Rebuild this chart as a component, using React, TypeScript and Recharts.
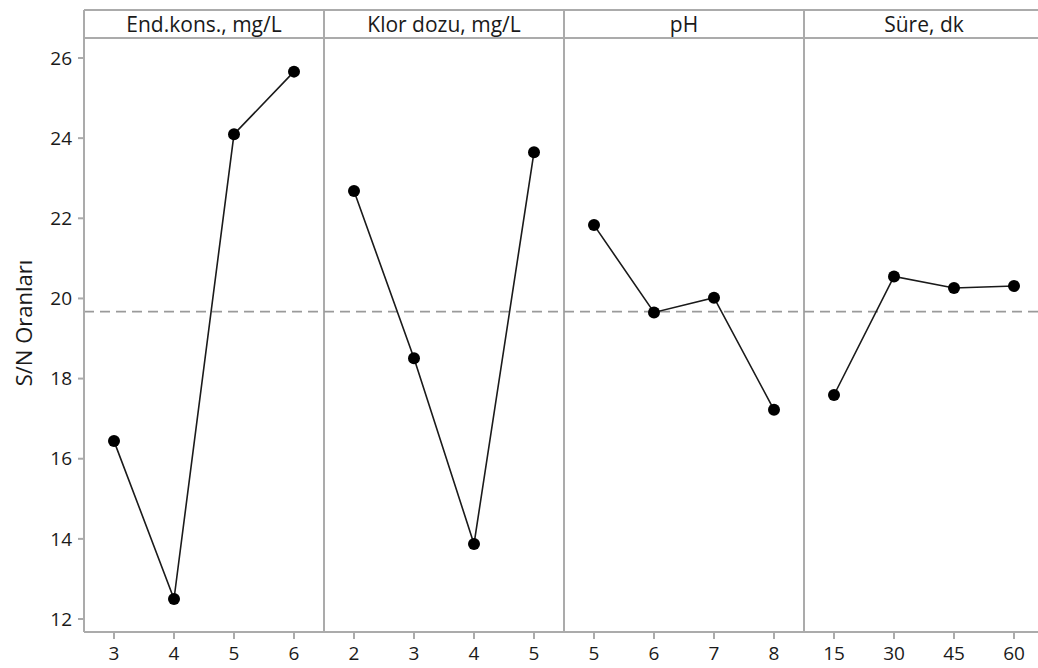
import {
  LineChart,
  Line,
  XAxis,
  YAxis,
  ReferenceLine,
  ReferenceArea,
} from "recharts";

const FONT = "'Open Sans', 'Noto Sans', sans-serif";
const FRAME = "#ababab";
const TEXT = "#1a1a1a";

// factor levels and S/N ratios
const panelTitles = ["End.kons., mg/L", "Klor dozu, mg/L", "pH", "Süre, dk"];
const endKonsLevels = ["3", "4", "5", "6"];
const endKonsSN = [16.44, 12.5, 24.1, 25.66];
const klorLevels = ["2", "3", "4", "5"];
const klorSN = [22.68, 18.51, 13.87, 23.65];
const phLevels = ["5", "6", "7", "8"];
const phSN = [21.83, 19.65, 20.02, 17.22];
const sureLevels = ["15", "30", "45", "60"];
const sureSN = [17.59, 20.55, 20.26, 20.31];
const grandMean = 19.67;
const yTicks = [12, 14, 16, 18, 20, 22, 24, 26];

// y range of the frame (header strip sits above 26.5)
const Y_MIN = 11.676;
const Y_HEAD = 26.5;
const Y_MAX = 27.198;

const panels = [
  { levels: endKonsLevels, values: endKonsSN },
  { levels: klorLevels, values: klorSN },
  { levels: phLevels, values: phSN },
  { levels: sureLevels, values: sureSN },
];

const rows = panels.flatMap((p, pi) =>
  p.levels.map((lv, li) => ({ x: pi * 4 + li, label: lv, [`p${pi}`]: p.values[li] })),
);
const tickLabels = rows.map((r) => r.label);

function YLabel() {
  return (
    <text
      x={23}
      y={323}
      transform="rotate(-90 23 323)"
      textAnchor="middle"
      dominantBaseline="central"
      fontSize={22}
      fill={TEXT}
      fontFamily={FONT}
    >
      S/N Oranları
    </text>
  );
}

export default function App() {
  return (
    <div style={{ position: "absolute", left: 0, top: 0, background: "#fff" }}>
      <LineChart
        width={1038}
        height={668}
        data={rows}
        margin={{ top: 10, right: 0, bottom: 0, left: 0 }}
        style={{ fontFamily: FONT }}
      >
        <XAxis
          type="number"
          dataKey="x"
          domain={[-0.5, 15.4]}
          ticks={rows.map((r) => r.x)}
          tickFormatter={(v) => tickLabels[v]}
          allowDataOverflow
          height={36}
          stroke={FRAME}
          strokeWidth={2}
          tickSize={7}
          tickMargin={8}
          tick={{ fontSize: 19, fill: TEXT }}
        />
        <YAxis
          type="number"
          domain={[Y_MIN, Y_MAX]}
          ticks={yTicks}
          allowDataOverflow
          width={84}
          stroke={FRAME}
          strokeWidth={2}
          tickSize={6}
          tickMargin={6}
          tick={{ fontSize: 19, fill: TEXT }}
          label={{ content: () => <YLabel /> }}
        />
        <ReferenceLine y={Y_MAX} stroke={FRAME} strokeWidth={2} ifOverflow="visible" />
        <ReferenceLine y={Y_HEAD} stroke={FRAME} strokeWidth={2} />
        {[3.5, 7.5, 11.5].map((x) => (
          <ReferenceLine key={x} x={x} stroke={FRAME} strokeWidth={2} />
        ))}
        {panelTitles.map((t, pi) => (
          <ReferenceArea
            key={t}
            x1={pi * 4 - 0.5}
            x2={pi * 4 + 3.5}
            y1={Y_HEAD}
            y2={Y_MAX}
            fill="none"
            stroke="none"
            ifOverflow="visible"
            label={{ value: t, position: "center", fontSize: 21, fill: TEXT, fontFamily: FONT, dy: 1 }}
          />
        ))}
        <ReferenceLine y={grandMean} stroke="#9a9a9a" strokeWidth={1.6} strokeDasharray="10 6" />
        {panels.map((_, pi) => (
          <Line
            key={pi}
            dataKey={`p${pi}`}
            type="linear"
            stroke="#1a1a1a"
            strokeWidth={1.6}
            dot={{ r: 6, fill: "#000", stroke: "none" }}
            activeDot={false}
            isAnimationActive={false}
          />
        ))}
      </LineChart>
    </div>
  );
}
